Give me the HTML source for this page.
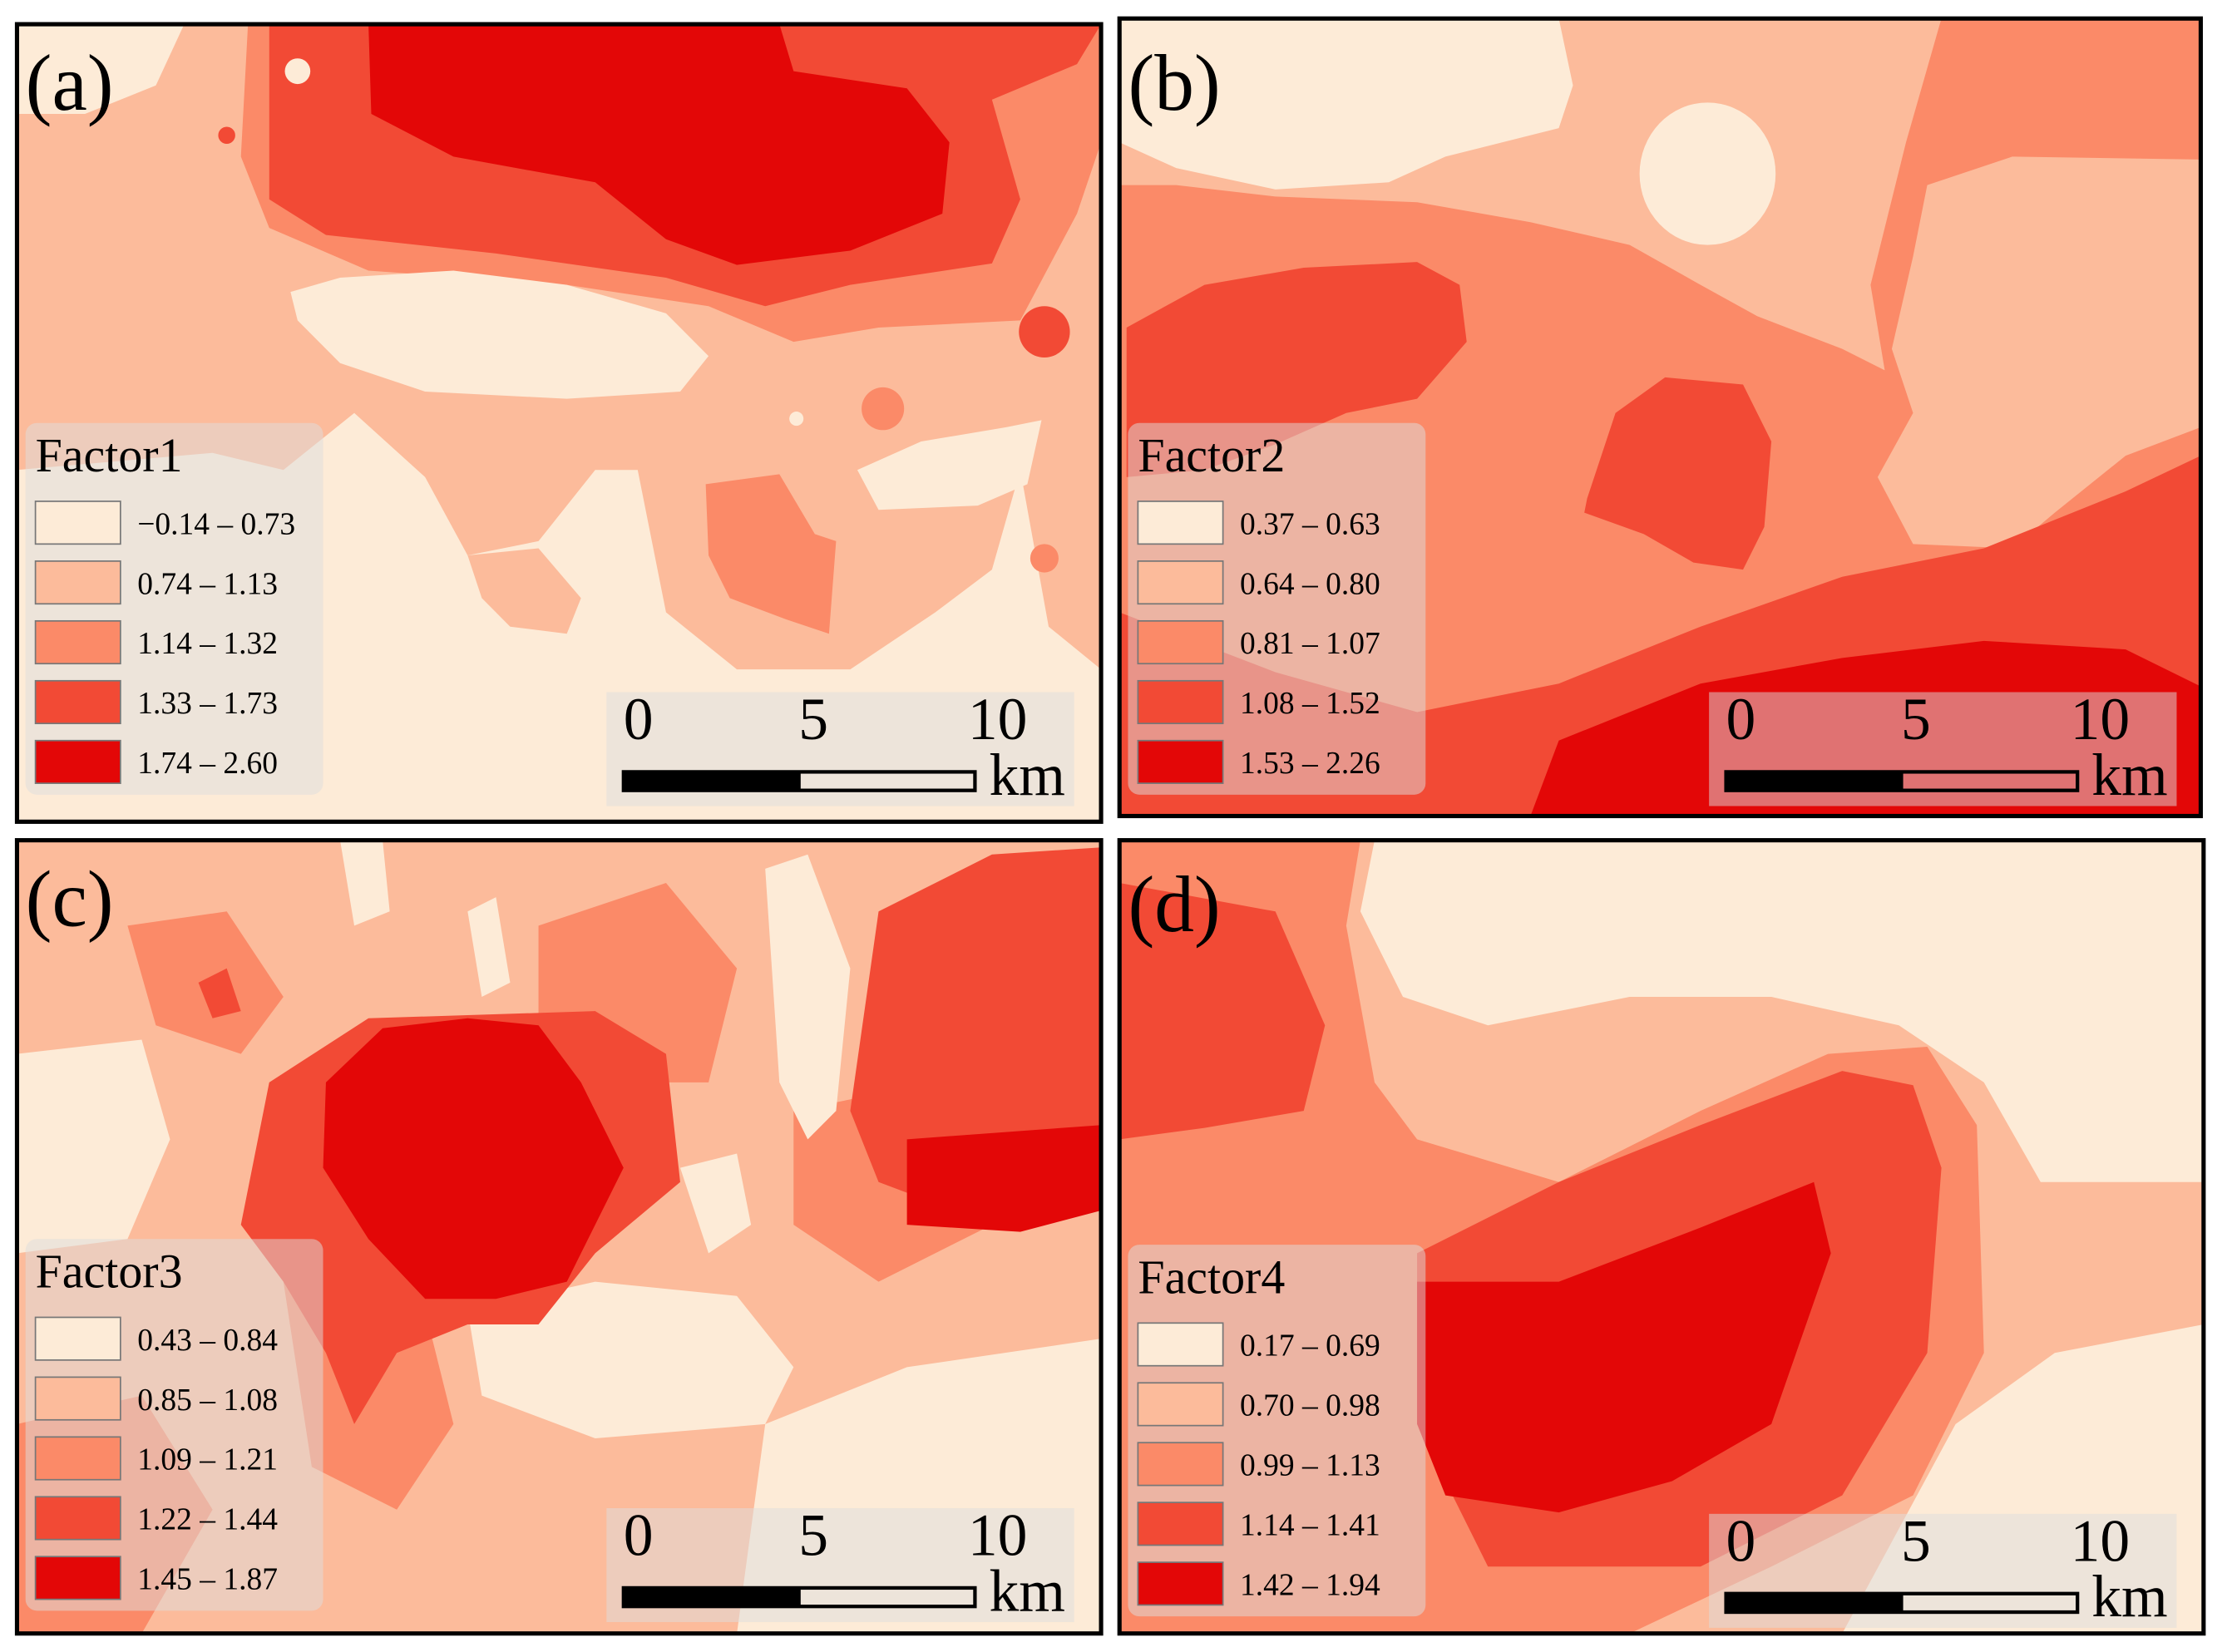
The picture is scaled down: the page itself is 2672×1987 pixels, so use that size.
<!DOCTYPE html>
<html><head><meta charset="utf-8"><style>
html,body{margin:0;padding:0;background:#fff}
svg{display:block}
text{font-family:"Liberation Serif",serif;fill:#000}
</style></head><body>
<svg id="fig" width="2672" height="1987" viewBox="0 0 1568 1160" preserveAspectRatio="none" xmlns="http://www.w3.org/2000/svg">
<defs>
<clipPath id="ca"><rect x="12" y="17" width="765" height="560"/></clipPath>
<clipPath id="cb"><rect x="790" y="13" width="763" height="560"/></clipPath>
<clipPath id="cc"><rect x="12" y="590" width="765" height="557"/></clipPath>
<clipPath id="cd"><rect x="790" y="590" width="765" height="557"/></clipPath>
</defs>
<g id="panel-a" clip-path="url(#ca)">
<rect x="12" y="17" width="765" height="560" fill="#fcbb9b"/>
<polygon fill="#fb8a68" points="175,17 170,110 190,160 260,190 400,200 500,215 560,240 620,230 720,225 760,150 777,100 777,17"/>
<polygon fill="#f24a35" points="190,17 190,140 230,165 350,178 470,195 540,215 600,200 700,185 720,140 700,70 760,45 777,17"/>
<polygon fill="#e30707" points="260,17 262,80 320,110 420,128 470,168 520,186 600,176 665,150 670,100 640,62 560,50 550,17"/>
<polygon fill="#fdebd7" points="205,205 240,195 320,190 400,200 470,220 500,250 480,275 400,280 300,275 240,255 210,225"/>
<polygon fill="#fdebd7" points="12,330 150,318 200,330 250,290 300,335 330,390 380,380 420,330 450,330 470,430 520,470 600,470 660,430 700,400 720,330 740,440 777,470 777,577 12,577"/>
<polygon fill="#fcbb9b" points="330,390 380,385 410,420 400,445 360,440 340,420"/>
<polygon fill="#fb8a68" points="498,340 550,333 575,375 590,380 585,445 555,435 515,420 500,390"/>
<polygon fill="#fdebd7" points="605,330 650,310 710,300 735,295 725,340 690,355 620,358"/>
<circle cx="737" cy="233" r="18" fill="#f24a35"/>
<circle cx="623" cy="287" r="15" fill="#fb8a68"/>
<circle cx="737" cy="392" r="10" fill="#fb8a68"/>
<circle cx="210" cy="50" r="9" fill="#fdebd7"/>
<circle cx="160" cy="95" r="6" fill="#f24a35"/>
<circle cx="562" cy="294" r="5" fill="#fdebd7"/>
<polygon fill="#fdebd7" points="12,17 130,17 110,60 60,80 12,80"/>
</g>
<g id="panel-b" clip-path="url(#cb)">
<rect x="790" y="13" width="763" height="560" fill="#fb8a68"/>
<polygon fill="#fcbb9b" points="790,13 1370,13 1345,100 1320,200 1330,260 1300,245 1240,222 1200,200 1150,172 1080,156 1000,142 900,138 830,130 790,130"/>
<polygon fill="#fdebd7" points="790,13 1100,13 1110,60 1100,90 1020,110 980,128 900,133 830,118 790,100"/>
<ellipse cx="1205" cy="122" rx="48" ry="50" fill="#fdebd7"/>
<polygon fill="#fcbb9b" points="1360,130 1420,110 1553,112 1553,300 1500,320 1450,360 1420,385 1350,382 1325,335 1350,290 1335,245 1350,180"/>
<polygon fill="#f24a35" points="795,230 850,200 920,188 1000,184 1030,200 1035,240 1000,280 950,290 900,312 850,330 795,335"/>
<polygon fill="#f24a35" points="1120,350 1140,290 1175,265 1230,270 1250,310 1245,370 1230,400 1195,395 1160,375 1118,360"/>
<polygon fill="#f24a35" points="790,430 900,472 1000,500 1100,480 1200,440 1300,405 1400,385 1500,345 1553,320 1553,573 790,573"/>
<polygon fill="#e30707" points="1080,573 1100,520 1200,480 1300,462 1400,450 1500,456 1553,482 1553,573"/>
</g>
<g id="panel-c" clip-path="url(#cc)">
<rect x="12" y="590" width="765" height="557" fill="#fcbb9b"/>
<polygon fill="#fb8a68" points="90,650 160,640 200,700 170,740 110,720"/>
<polygon fill="#fb8a68" points="380,650 470,620 520,680 500,760 430,760 380,720"/>
<polygon fill="#fb8a68" points="560,780 660,760 700,860 620,900 560,860"/>
<polygon fill="#fb8a68" points="200,900 300,920 320,1000 280,1060 220,1030"/>
<polygon fill="#fb8a68" points="12,1000 100,980 150,1060 100,1147 12,1147"/>
<polygon fill="#fdebd7" points="12,740 100,730 120,800 90,870 12,880"/>
<polygon fill="#fdebd7" points="330,920 420,900 520,910 560,960 540,1000 420,1010 340,980"/>
<polygon fill="#fdebd7" points="540,1000 640,960 777,940 777,1147 520,1147"/>
<polygon fill="#fdebd7" points="540,610 570,600 600,680 590,780 570,800 550,760"/>
<polygon fill="#fdebd7" points="240,590 270,590 275,640 250,650"/>
<polygon fill="#fdebd7" points="330,640 350,630 360,690 340,700"/>
<polygon fill="#fdebd7" points="480,820 520,810 530,860 500,880"/>
<polygon fill="#f24a35" points="620,640 700,600 777,595 777,820 700,860 620,830 600,780"/>
<polygon fill="#e30707" points="640,800 777,790 777,850 720,865 640,860"/>
<polygon fill="#f24a35" points="190,760 260,715 420,710 470,740 480,830 420,880 380,930 330,930 280,950 250,1000 230,950 200,900 170,860"/>
<polygon fill="#e30707" points="230,760 270,722 330,715 380,720 410,760 440,820 400,900 350,912 300,912 260,870 228,820"/>
<polygon fill="#f24a35" points="140,690 160,680 170,710 150,715"/>
</g>
<g id="panel-d" clip-path="url(#cd)">
<rect x="790" y="590" width="765" height="557" fill="#fcbb9b"/>
<polygon fill="#fdebd7" points="970,590 1555,590 1555,830 1440,830 1400,760 1340,720 1250,700 1150,700 1050,720 990,700 960,640"/>
<polygon fill="#fdebd7" points="1380,1000 1450,950 1555,930 1555,1147 1300,1147"/>
<ellipse cx="1010" cy="678" rx="22" ry="18" fill="#fdebd7"/>
<polygon fill="#fb8a68" points="790,590 960,590 950,650 970,760 1000,800 1100,830 1200,780 1290,740 1360,735 1395,790 1400,950 1350,1050 1250,1100 1150,1147 790,1147"/>
<polygon fill="#f24a35" points="790,620 900,640 935,720 920,780 850,792 790,800"/>
<polygon fill="#f24a35" points="1000,880 1100,830 1200,790 1300,752 1350,762 1370,820 1360,950 1300,1050 1200,1100 1050,1100 1000,1000"/>
<polygon fill="#e30707" points="1000,900 1100,900 1200,862 1280,830 1292,880 1250,1000 1180,1040 1100,1062 1020,1050 1000,1000"/>
</g>
<g id="borders" fill="none" stroke="#000" stroke-width="3">
<rect x="12" y="17" width="765" height="560"/>
<rect x="790" y="13" width="763" height="560"/>
<rect x="12" y="590" width="765" height="557"/>
<rect x="790" y="590" width="765" height="557"/>
</g>
<g id="overlays"></g>
</svg>
<script>
const panelLetters = ["(a)", "(b)", "(c)", "(d)"];
const factorTitles = ["Factor1", "Factor2", "Factor3", "Factor4"];
const classLabels = [
  ["\u22120.14 \u2013 0.73", "0.74 \u2013 1.13", "1.14 \u2013 1.32", "1.33 \u2013 1.73", "1.74 \u2013 2.60"],
  ["0.37 \u2013 0.63", "0.64 \u2013 0.80", "0.81 \u2013 1.07", "1.08 \u2013 1.52", "1.53 \u2013 2.26"],
  ["0.43 \u2013 0.84", "0.85 \u2013 1.08", "1.09 \u2013 1.21", "1.22 \u2013 1.44", "1.45 \u2013 1.87"],
  ["0.17 \u2013 0.69", "0.70 \u2013 0.98", "0.99 \u2013 1.13", "1.14 \u2013 1.41", "1.42 \u2013 1.94"]
];
const classColors = ["#fdebd7", "#fcbb9b", "#fb8a68", "#f24a35", "#e30707"];
const scaleTicks = ["0", "5", "10"];
const origins = [[12,17],[790,13],[12,590],[790,590]];
const NS = "http://www.w3.org/2000/svg";
const ov = document.getElementById("overlays");
function mk(tag, attrs, parent) {
  const e = document.createElementNS(NS, tag);
  for (const k in attrs) e.setAttribute(k, attrs[k]);
  parent.appendChild(e);
  return e;
}
origins.forEach((o, i) => {
  const ox = o[0], oy = o[1] + (i % 2 === 1 ? 4 : 0);
  const g = mk("g", {}, ov);
  
  
  const lab = mk("text", {x: ox + 6, y: oy + 60, "font-size": 56}, g);
  lab.textContent = panelLetters[i];
  
  
  const leg = mk("g", {}, g);
  
  
  const bx = ox + 6, by = oy + 280;
  const lb = mk("rect", {x: bx, y: by, width: 210, height: 261, rx: 8, fill: "rgba(222,222,222,0.5)"}, leg);
  
  
  const t = mk("text", {x: bx + 7, y: by + 34, "font-size": 34}, leg);
  t.textContent = factorTitles[i];
  
  
  classLabels[i].forEach((s, k) => {
    const sy = by + 55 + k * 42;
    const sw = mk("rect", {x: bx + 7, y: sy, width: 60, height: 30, fill: classColors[k], stroke: "#777", "stroke-width": 1}, leg);
    
    
    const tx = mk("text", {x: bx + 79, y: sy + 23, "font-size": 22}, leg);
    tx.textContent = s;
    
    
  });
  const sb = mk("g", {}, g);
  
  
  const sx = ox + 416, sy = oy + 469;
  mk("rect", {x: sx, y: sy, width: 330, height: 80, fill: "rgba(222,222,222,0.5)"}, sb);
  scaleTicks.forEach((s, k) => {
    const tt = mk("text", {x: sx + 12 + k * 125, y: sy + 33, "font-size": 42, "text-anchor": k === 0 ? "start" : "middle"}, sb);
    if (k > 0) tt.setAttribute("x", sx + 12 + k * 125 + (k === 1 ? 9 : 14));
    tt.textContent = s;
    
    
  });
  mk("rect", {x: sx + 12, y: sy + 56, width: 248, height: 13, fill: "none", stroke: "#000", "stroke-width": 2.5}, sb);
  mk("rect", {x: sx + 12, y: sy + 56, width: 125, height: 13, fill: "#000"}, sb);
  const km = mk("text", {x: sx + 270, y: sy + 72, "font-size": 42}, sb);
  km.textContent = "km";
  
  
});
</script>
</body></html>
